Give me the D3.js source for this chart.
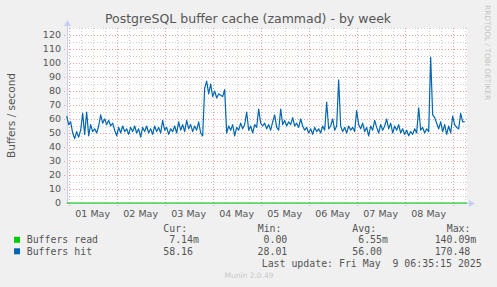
<!DOCTYPE html>
<html>
  <head>
    <meta http-equiv="Content-Type" content="text/html;charset=utf-8"/>
    <style type="text/css">
body { margin: 0; background: #f0f0f0; }
svg { display: block; font-family: "DejaVu Sans", sans-serif; }
.grid line { stroke-dasharray: 1,2; shape-rendering: crispEdges; }
.grid .minor { stroke: #cfcfcf; }
.grid .major { stroke: #e8a0a0; }
.tick-label { font-size: 9.5px; fill: #555; }
.legend text { font-family: "DejaVu Sans Mono", monospace; font-size: 9.9px; fill: #555; white-space: pre; }
    </style>
  </head>
  <body>
    <svg></svg>
    <script src="https://cdn.jsdelivr.net/npm/d3@7"></script>
    <script type="text/javascript">

// Buffers hit, hourly samples from Apr 30 23:00 UTC
var hitValues = [
  62, 56, 58, 50, 46, 51, 47, 52, 64, 49, 65, 48, 56, 51, 53, 50, 55, 63, 57, 60,
  56, 59, 55, 57, 52, 48, 54, 50, 55, 51, 53, 49, 54, 51, 55, 50, 53, 47, 54, 51,
  55, 50, 53, 49, 55, 51, 54, 50, 59, 52, 54, 49, 53, 51, 55, 50, 58, 52, 56, 51,
  59, 53, 56, 51, 55, 52, 58, 50, 48, 82, 87, 78, 85, 76, 80, 75, 78, 77, 76, 81,
  50, 55, 52, 56, 48, 54, 52, 57, 53, 56, 65, 52, 55, 50, 56, 54, 67, 57, 55, 57,
  53, 56, 52, 58, 63, 54, 52, 67, 56, 59, 55, 58, 56, 61, 55, 57, 54, 60, 55, 52,
  54, 50, 53, 49, 54, 51, 53, 50, 55, 52, 72, 53, 55, 60, 52, 55, 88, 55, 51, 54,
  50, 55, 52, 54, 51, 66, 56, 53, 57, 51, 54, 48, 55, 52, 59, 54, 50, 56, 52, 55,
  60, 53, 57, 50, 55, 52, 56, 50, 53, 49, 52, 48, 51, 49, 53, 50, 68, 52, 54, 50,
  53, 51, 104, 63, 61, 57, 53, 58, 51, 56, 49, 55, 50, 62, 56, 54, 53, 64, 58, 58
];

// Buffers read, daily samples (per second, practically zero)
var readValues = [0.006, 0.007, 0.005, 0.008, 0.006, 0.007, 0.006, 0.005, 0.007, 0.007];

var dayLabels = ["01 May", "02 May", "03 May", "04 May", "05 May", "06 May", "07 May", "08 May"];
var yTicks = [0, 10, 20, 30, 40, 50, 60, 70, 80, 90, 100, 110, 120];

var seriesNames = ["Buffers read", "Buffers hit"];
var seriesColors = ["#00cc00", "#0066b3"];
var curValues = ["  7.14m", " 58.16 "];
var minValues = ["   0.00 ", "  28.01 "];
var avgValues = ["  6.55m", " 56.00 "];
var maxValues = [" 140.09m", " 170.48 "];

var W = 497, H = 287;
var m = {left: 67, top: 28, right: 467, bottom: 203};

var svg = d3.select("svg").attr("width", W).attr("height", H);

var t0 = Date.UTC(2025, 3, 30, 23, 10),
    t1 = Date.UTC(2025, 4, 9, 7, 10);

var x = d3.scaleUtc().domain([t0, t1]).range([m.left, m.right]);
var y = d3.scaleLinear().domain([0, 125]).range([m.bottom, m.top]);

var hitData = hitValues.map(function(v, i) {
  return {t: new Date(Date.UTC(2025, 3, 30, 23) + i * 3600e3), v: v};
});
var readData = readValues.map(function(v, i) {
  var t = Date.UTC(2025, 3, 30, 23) + i * 24 * 3600e3;
  return {t: new Date(Math.min(t, t1)), v: v};
});

// canvas
svg.append("rect")
    .attr("x", m.left).attr("y", m.top)
    .attr("width", m.right - m.left).attr("height", m.bottom - m.top)
    .attr("fill", "#fff");

var grid = svg.append("g").attr("class", "grid");

// horizontal grid
grid.selectAll("line.h")
    .data(d3.range(5, 126, 5))
  .enter().append("line")
    .attr("class", function(d) { return d % 10 === 0 ? "major" : "minor"; })
    .attr("x1", function(d) { return d % 10 === 0 ? m.left - 3 : m.left; })
    .attr("x2", m.right)
    .attr("y1", function(d) { return Math.round(y(d)) + 0.5; })
    .attr("y2", function(d) { return Math.round(y(d)) + 0.5; });

// vertical grid, every 6 hours, red at midnight
var sixHours = d3.utcHour.every(6).range(new Date(t0), new Date(t1));
grid.selectAll("line.v")
    .data(sixHours)
  .enter().append("line")
    .attr("class", function(d) { return d.getUTCHours() === 0 ? "major" : "minor"; })
    .attr("x1", function(d) { return Math.round(x(d)) + 0.5; })
    .attr("x2", function(d) { return Math.round(x(d)) + 0.5; })
    .attr("y1", m.top)
    .attr("y2", function(d) { return d.getUTCHours() === 0 ? m.bottom + 3 : m.bottom; });

// y tick labels
svg.append("g").selectAll("text")
    .data(yTicks)
  .enter().append("text")
    .attr("class", "tick-label")
    .attr("x", m.left - 6)
    .attr("y", function(d) { return y(d); })
    .attr("dy", "0.35em")
    .attr("text-anchor", "end")
    .text(String);

// x labels at noon
svg.append("g").selectAll("text")
    .data(dayLabels)
  .enter().append("text")
    .attr("class", "tick-label")
    .attr("x", function(d, i) { return x(Date.UTC(2025, 4, 1 + i, 12)); })
    .attr("y", 216.5)
    .attr("text-anchor", "middle")
    .text(String);

// axes with arrows
var axisColor = "#c8cff5";
svg.append("line")
    .attr("x1", m.left + 0.5).attr("x2", m.left + 0.5)
    .attr("y1", m.bottom).attr("y2", m.top - 3)
    .attr("stroke", axisColor);
svg.append("line")
    .attr("x1", m.left).attr("x2", m.right + 3)
    .attr("y1", m.bottom + 0.5).attr("y2", m.bottom + 0.5)
    .attr("stroke", axisColor);
svg.append("path")
    .attr("d", "M" + (m.left - 3) + "," + (m.top - 2) + "L" + (m.left + 0.5) + "," + (m.top - 8) + "L" + (m.left + 4) + "," + (m.top - 2) + "Z")
    .attr("fill", axisColor);
svg.append("path")
    .attr("d", "M" + (m.right + 2) + "," + (m.bottom - 3) + "L" + (m.right + 8) + "," + (m.bottom + 0.5) + "L" + (m.right + 2) + "," + (m.bottom + 4) + "Z")
    .attr("fill", axisColor);

var line = d3.line()
    .x(function(d) { return x(d.t); })
    .y(function(d) { return y(d.v); });

svg.append("path")
    .datum(readData)
    .attr("d", line)
    .attr("fill", "none")
    .attr("stroke", seriesColors[0])
    .attr("stroke-width", 1);

svg.append("path")
    .datum(hitData)
    .attr("d", line)
    .attr("fill", "none")
    .attr("stroke", seriesColors[1])
    .attr("stroke-width", 1.2)
    .attr("stroke-linejoin", "round");

// title and labels
svg.append("text")
    .attr("x", 248).attr("y", 23)
    .attr("text-anchor", "middle")
    .attr("font-size", 12.5)
    .attr("fill", "#555")
    .text("PostgreSQL buffer cache (zammad) - by week");

svg.append("text")
    .attr("transform", "translate(15," + ((m.top + m.bottom) / 2) + ") rotate(-90)")
    .attr("text-anchor", "middle")
    .attr("font-size", 10.5)
    .attr("fill", "#555")
    .text("Buffers / second");

svg.append("text")
    .attr("transform", "translate(485,5) rotate(90)")
    .attr("font-size", 7.4)
    .attr("fill", "#c4c4c4")
    .text("RRDTOOL / TOBI OETIKER");

// legend
var legend = svg.append("g").attr("class", "legend");
var cols = [163.3, 257.7, 352.3, 446.7];
["Cur:", "Min:", "Avg:", "Max:"].forEach(function(h, i) {
  legend.append("text").attr("x", cols[i]).attr("y", 231.5).text(h);
});

seriesNames.forEach(function(name, i) {
  var yy = 243.3 + i * 11.5;
  legend.append("rect")
      .attr("x", 14).attr("y", yy - 6.5)
      .attr("width", 6).attr("height", 6)
      .attr("fill", seriesColors[i]);
  legend.append("text").attr("x", 26.7).attr("y", yy).text(name);
  legend.append("text").attr("x", 157.3).attr("y", yy).text(curValues[i]);
  legend.append("text").attr("x", 245.7).attr("y", yy).text(minValues[i]);
  legend.append("text").attr("x", 346.3).attr("y", yy).text(avgValues[i]);
  legend.append("text").attr("x", 428.7).attr("y", yy).text(maxValues[i]);
});

legend.append("text")
    .attr("x", 261.7).attr("y", 266.7)
    .text("Last update: Fri May  9 06:35:15 2025");

svg.append("text")
    .attr("x", 249).attr("y", 278.3)
    .attr("text-anchor", "middle")
    .attr("font-size", 7.5)
    .attr("fill", "#c8c8c8")
    .text("Munin 2.0.49");

    </script>
  </body>
</html>
